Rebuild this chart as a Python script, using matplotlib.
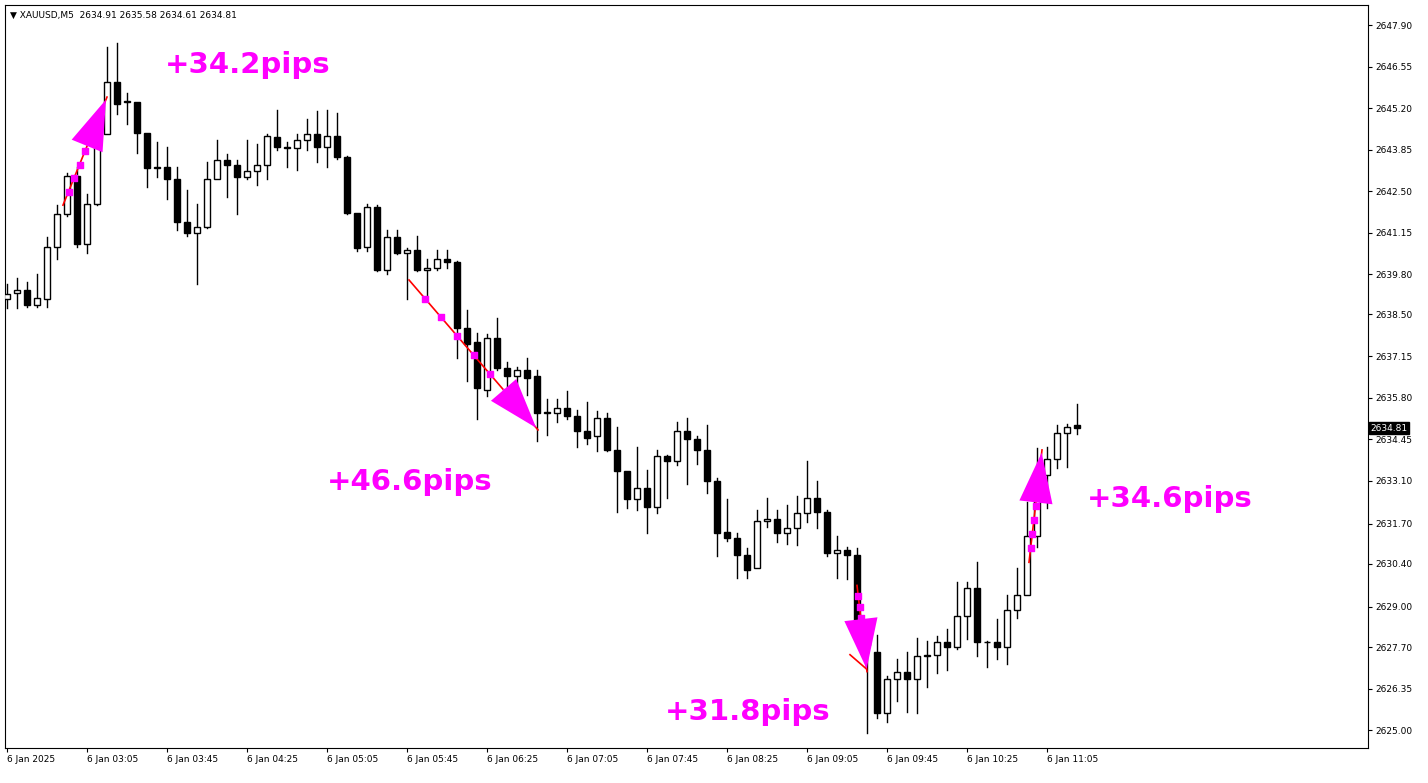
import matplotlib.pyplot as plt
import matplotlib.transforms as mtransforms
from matplotlib.patches import Rectangle

# OHLC, 5-minute XAUUSD candles (6 Jan 2025, from 02:25)
opens = [2639.0, 2639.2, 2639.3, 2638.8, 2639.0, 2640.7, 2641.75, 2643.0, 2640.8, 2642.1,
         2644.35, 2646.05, 2645.4, 2645.4, 2644.4, 2643.25, 2643.3, 2642.9, 2641.5, 2641.15,
         2641.35, 2642.9, 2643.5, 2643.35, 2642.95, 2643.15, 2643.35, 2644.25, 2643.95, 2643.9,
         2644.15, 2644.35, 2643.95, 2644.3, 2643.6, 2641.8, 2640.7, 2642.0, 2639.95, 2641.0,
         2640.5, 2640.6, 2639.95, 2640.0, 2640.3, 2640.2, 2638.05, 2637.6, 2636.05, 2637.75,
         2636.75, 2636.5, 2636.7, 2636.5, 2635.3, 2635.3, 2635.45, 2635.2, 2634.7, 2634.55,
         2635.15, 2634.1, 2633.4, 2632.5, 2632.85, 2632.25, 2633.9, 2633.75, 2634.7, 2634.45,
         2634.1, 2633.1, 2631.45, 2631.25, 2630.7, 2630.25, 2631.8, 2631.85, 2631.4, 2631.55,
         2632.05, 2632.55, 2632.1, 2630.75, 2630.85, 2630.7, 2628.5, 2627.55, 2625.55, 2626.65,
         2626.9, 2626.65, 2627.4, 2627.45, 2627.85, 2627.7, 2628.7, 2629.6, 2627.85, 2627.85,
         2627.7, 2628.9, 2629.4, 2631.3, 2633.3, 2633.8, 2634.65, 2634.91]
highs = [2639.5, 2639.7, 2639.55, 2639.8, 2641.0, 2642.05, 2643.1, 2643.3, 2642.4, 2644.5,
         2647.2, 2647.3, 2645.7, 2645.4, 2644.4, 2644.1, 2643.95, 2643.3, 2642.55, 2642.1,
         2643.45, 2644.15, 2643.7, 2643.5, 2644.15, 2644.05, 2644.35, 2645.15, 2644.1, 2644.35,
         2644.85, 2645.1, 2645.15, 2645.05, 2643.65, 2641.8, 2642.1, 2642.05, 2641.25, 2641.25,
         2640.65, 2641.05, 2640.3, 2640.6, 2640.6, 2640.25, 2638.65, 2637.9, 2637.85, 2638.4,
         2636.95, 2636.8, 2637.1, 2636.7, 2635.75, 2635.75, 2636.0, 2635.4, 2635.65, 2635.35,
         2635.3, 2634.85, 2633.4, 2634.2, 2633.45, 2634.1, 2633.95, 2635.0, 2635.15, 2634.55,
         2634.9, 2633.2, 2632.5, 2631.4, 2630.9, 2632.15, 2632.55, 2632.15, 2632.3, 2632.6,
         2633.75, 2633.1, 2632.15, 2631.3, 2630.95, 2630.9, 2628.55, 2628.1, 2626.75, 2627.3,
         2627.55, 2628.0, 2627.9, 2628.05, 2628.3, 2629.8, 2629.8, 2630.45, 2627.9, 2628.6,
         2629.4, 2630.25, 2632.4, 2634.15, 2634.2, 2634.9, 2634.95, 2635.58]
lows = [2638.7, 2638.7, 2638.75, 2638.75, 2638.75, 2640.3, 2641.7, 2640.7, 2640.5, 2642.05,
        2644.35, 2645.0, 2644.7, 2643.75, 2642.65, 2642.95, 2642.25, 2641.25, 2641.05, 2639.5,
        2641.3, 2642.9, 2642.3, 2641.75, 2642.9, 2642.7, 2642.9, 2643.85, 2643.3, 2643.2,
        2643.85, 2643.45, 2643.3, 2643.55, 2641.75, 2640.55, 2640.55, 2639.9, 2639.8, 2640.45,
        2639.0, 2639.9, 2639.1, 2639.95, 2640.0, 2637.1, 2636.35, 2635.1, 2635.85, 2636.7,
        2635.85, 2635.85, 2635.9, 2634.4, 2634.6, 2635.0, 2635.1, 2634.2, 2634.3, 2634.05,
        2634.05, 2632.1, 2632.2, 2632.15, 2631.4, 2632.05, 2632.55, 2633.6, 2633.0, 2633.65,
        2632.7, 2630.65, 2631.15, 2629.95, 2629.95, 2630.25, 2631.6, 2631.1, 2631.05, 2631.0,
        2631.75, 2631.55, 2630.65, 2629.95, 2629.9, 2628.4, 2624.9, 2625.4, 2625.25, 2625.95,
        2625.6, 2625.55, 2626.4, 2626.85, 2626.95, 2627.65, 2627.95, 2627.4, 2627.05, 2627.3,
        2627.15, 2628.65, 2629.4, 2630.95, 2632.2, 2633.5, 2633.55, 2634.61]
closes = [2639.15, 2639.3, 2638.8, 2639.05, 2640.7, 2641.75, 2643.0, 2640.8, 2642.1, 2644.4,
          2646.05, 2645.35, 2645.4, 2644.4, 2643.25, 2643.3, 2642.9, 2641.5, 2641.15, 2641.35,
          2642.9, 2643.5, 2643.35, 2642.95, 2643.15, 2643.35, 2644.3, 2643.95, 2643.9, 2644.15,
          2644.35, 2643.95, 2644.3, 2643.6, 2641.8, 2640.65, 2642.0, 2639.95, 2641.0, 2640.5,
          2640.6, 2639.95, 2640.0, 2640.3, 2640.2, 2638.05, 2637.55, 2636.1, 2637.75, 2636.75,
          2636.5, 2636.7, 2636.45, 2635.3, 2635.3, 2635.45, 2635.2, 2634.7, 2634.5, 2635.15,
          2634.1, 2633.4, 2632.5, 2632.85, 2632.25, 2633.9, 2633.75, 2634.7, 2634.45, 2634.1,
          2633.1, 2631.4, 2631.25, 2630.7, 2630.2, 2631.8, 2631.85, 2631.4, 2631.55, 2632.05,
          2632.55, 2632.1, 2630.75, 2630.85, 2630.7, 2628.5, 2627.75, 2625.55, 2626.65, 2626.9,
          2626.65, 2627.4, 2627.45, 2627.85, 2627.7, 2628.7, 2629.6, 2627.85, 2627.85, 2627.7,
          2628.9, 2629.4, 2631.3, 2633.3, 2633.8, 2634.65, 2634.85, 2634.81]

price_ticks = [2625.00, 2626.35, 2627.70, 2629.00, 2630.40, 2631.70, 2633.10, 2634.45,
               2635.80, 2637.15, 2638.50, 2639.80, 2641.15, 2642.50, 2643.85, 2645.20,
               2646.55, 2647.90]
time_pos = [0, 8, 16, 24, 32, 40, 48, 56, 64, 72, 80, 88, 96, 104]
time_labels = ['6 Jan 2025', '6 Jan 03:05', '6 Jan 03:45', '6 Jan 04:25', '6 Jan 05:05',
               '6 Jan 05:45', '6 Jan 06:25', '6 Jan 07:05', '6 Jan 07:45', '6 Jan 08:25',
               '6 Jan 09:05', '6 Jan 09:45', '6 Jan 10:25', '6 Jan 11:05']

# moves marked on the chart: (start index, start price, end index, end price, label, label pos)
moves = [
    (5.6, 2642.05, 10.0, 2645.56, '+34.2pips', (15.8, 2646.6)),
    (40.2, 2639.62, 53.1, 2634.75, '+46.6pips', (32.0, 2633.05)),
    (85.0, 2629.7, 86.0, 2626.9, '+31.8pips', (65.8, 2625.6)),
    (102.2, 2630.45, 103.5, 2634.1, '+34.6pips', (108.0, 2632.5)),
]

MAGENTA = '#ff00ff'

fig = plt.figure(figsize=(14.28, 7.83), dpi=100)
ax = fig.add_axes([5 / 1428, 1 - 748 / 783, 1363 / 1428, 743 / 783])

W = 0.62
for i, (o, h, l, c) in enumerate(zip(opens, highs, lows, closes)):
    lo_b, hi_b = min(o, c), max(o, c)
    ax.plot([i, i], [hi_b, h], color='black', lw=1, zorder=2)
    ax.plot([i, i], [l, lo_b], color='black', lw=1, zorder=2)
    fill = 'white' if c >= o else 'black'
    ax.add_patch(Rectangle((i - W / 2, lo_b), W, max(hi_b - lo_b, 0.02),
                           facecolor=fill, edgecolor='black', lw=1, zorder=3))

for x0, y0, x1, y1, label, (tx, ty) in moves:
    ax.plot([x0, x1], [y0, y1], color='red', lw=1.2, zorder=4)
    xs = [x0 + (x1 - x0) * k / 8 for k in range(1, 7)]
    ys = [y0 + (y1 - y0) * k / 8 for k in range(1, 7)]
    ax.scatter(xs, ys, s=14, marker='s', color=MAGENTA, zorder=5)
    ax.annotate('', xy=(x1, y1), xytext=(x1 - (x1 - x0) * 0.12, y1 - (y1 - y0) * 0.12),
                arrowprops=dict(arrowstyle='-|>,head_length=0.9,head_width=0.3',
                                color=MAGENTA, mutation_scale=40, lw=0),
                zorder=6)
    ax.text(tx, ty, label, color=MAGENTA, fontsize=21, fontweight='bold',
            ha='left', va='center', zorder=7)
# short red stub near the third arrow
ax.plot([84.3, 85.9], [2627.45, 2627.0], color='red', lw=1.2, zorder=4)

ax.set_xlim(-0.2, 136.1)
ax.set_ylim(2624.42, 2648.55)
ax.yaxis.tick_right()
ax.set_yticks(price_ticks)
ax.set_yticklabels([f'{p:.2f}' for p in price_ticks], fontsize=6.5)
ax.set_xticks(time_pos)
ax.set_xticklabels(time_labels, fontsize=6.5, ha='left')
ax.tick_params(axis='both', length=3, width=0.8, pad=2)
for s in ax.spines.values():
    s.set_linewidth(0.8)

trans = mtransforms.blended_transform_factory(ax.transAxes, ax.transData)
ax.text(1.002, closes[-1], f'{closes[-1]:.2f}', transform=trans, fontsize=6.5, color='white',
        ha='left', va='center', bbox=dict(facecolor='black', edgecolor='black', pad=1.2))

ax.text(0.004, 0.992, f'\u25bc XAUUSD,M5  {opens[-1]:.2f} {highs[-1]:.2f} {lows[-1]:.2f} {closes[-1]:.2f}',
        transform=ax.transAxes, fontsize=6.5, ha='left', va='top')

fig.savefig('out.png', dpi=100, facecolor='white')
